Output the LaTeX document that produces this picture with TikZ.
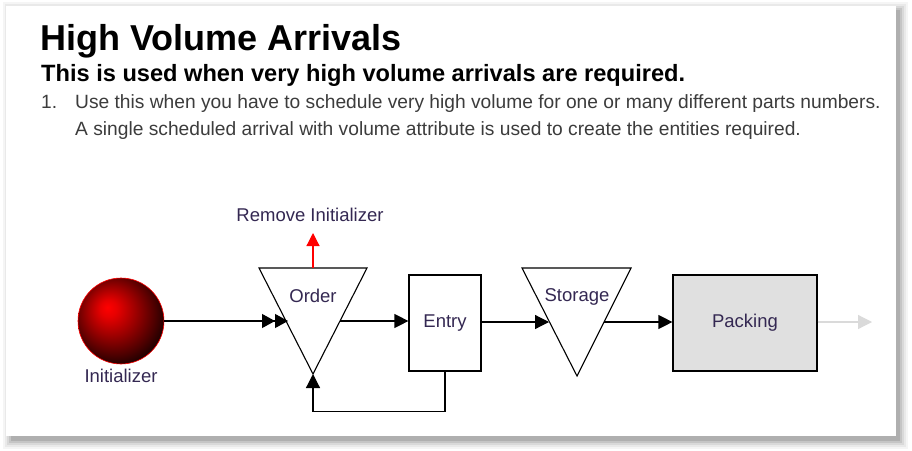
\documentclass[tikz,border=0pt]{standalone}
\usepackage{fontspec}
\setmainfont{Liberation Sans}
\usetikzlibrary{arrows.meta}
\definecolor{lbl}{RGB}{52,40,82}
\definecolor{listgray}{RGB}{60,60,60}
\definecolor{packfill}{RGB}{224,224,224}
\definecolor{outgray}{RGB}{218,218,218}
\pgfdeclareradialshading{redball}{\pgfpoint{-8bp}{8bp}}{%
  color(0bp)=(red);
  color(5bp)=(red!90!black);
  color(14bp)=(red!62!black);
  color(24bp)=(red!30!black);
  color(33bp)=(black);
  color(50bp)=(black)}
\tikzset{
  line/.style={line width=1.2pt, black},
  tip/.style={-{Triangle[length=14pt,width=14pt]}},
  dtip/.style={-{Triangle[length=13pt,width=14pt]Triangle[length=13pt,width=14pt,sep=-2pt]}},
  boxnode/.style={draw, line width=1.2pt, font=\fontsize{18.5pt}{22pt}\selectfont, text=lbl},
  lbltext/.style={font=\fontsize{18.5pt}{22pt}\selectfont, text=lbl, inner sep=0pt},
  listtext/.style={font=\fontsize{19.2pt}{22pt}\selectfont, text=listgray, inner sep=0pt, anchor=base west},
}
\begin{document}
\begin{tikzpicture}[x=1pt,y=-1pt]
\useasboundingbox (0,0) rectangle (912,450);
% card with soft shadow
\fill[black,opacity=0.04] (3,2) rectangle (908,449);
\fill[black,opacity=0.05] (5,4) rectangle (906,447);
\fill[black,opacity=0.07] (7,6) rectangle (904,445);
\fill[black,opacity=0.09] (9,8) rectangle (902,443);
\fill[black,opacity=0.11] (11,10) rectangle (900,441);
\fill[white] (6,6) rectangle (896,436);
% texts
\node[inner sep=0pt, anchor=base west, font=\fontsize{36pt}{40pt}\selectfont\bfseries] (title) at (40,50) {High Volume Arrivals};
\node[inner sep=0pt, anchor=base west, font=\fontsize{23.6pt}{28pt}\selectfont\bfseries] (sub) at (41,81) {This is used when very high volume arrivals are required.};
\node[listtext] (num) at (41,108) {1.};
\node[listtext] (l1) at (75,108) {Use this when you have to schedule very high volume for one or many different parts numbers.};
\node[listtext] (l2) at (75,135) {A single scheduled arrival with volume attribute is used to create the entities required.};
% initializer
\node[circle, minimum size=86pt, inner sep=0pt, draw=red, line width=0.6pt, shading=redball] (init) at (121,321) {};
\node[lbltext] (initlbl) at (121,376) {Initializer};
% order triangle
\coordinate (orderTL) at (259,268);
\coordinate (orderTR) at (367,268);
\coordinate (orderB) at (313,374);
\coordinate (orderT) at (313,268);
\coordinate (orderL) at (286,321);
\coordinate (orderR) at (340,321);
\draw[line width=1.1pt] (orderTL) -- (orderTR) -- (orderB) -- cycle;
\node[lbltext] (order) at (313,296) {Order};
% remove initializer
\node[lbltext] (remove) at (310,215) {Remove Initializer};
\coordinate (removeTip) at (313,233);
\draw[line width=1.2pt, red, -{Triangle[length=13pt,width=13pt]}] (orderT) -- (removeTip);
% entry
\node[boxnode, minimum width=72pt, minimum height=96pt] (entry) at (445,323) {Entry};
% storage triangle
\coordinate (storTL) at (522,268);
\coordinate (storTR) at (631,268);
\coordinate (storB) at (577,376);
\coordinate (storL) at (549,322);
\coordinate (storR) at (604,322);
\draw[line width=1.1pt] (storTL) -- (storTR) -- (storB) -- cycle;
\node[lbltext] (storage) at (577,297) {Storage};
% packing
\node[boxnode, fill=packfill, minimum width=144pt, minimum height=96pt] (packing) at (745,323) {Packing};
\coordinate (outTip) at (872,322);
% connectors
\draw[line, dtip] (init.east) -- (orderL);
\draw[line, tip] (orderR) -- (orderR -| entry.west);
\draw[line, tip] (entry.south) -- ++(0,40) -| (orderB);
\draw[line, tip] (entry.east |- storL) -- (storL);
\draw[line, tip] (storR) -- (storR -| packing.west);
\draw[line width=1.2pt, outgray, -{Triangle[length=14pt,width=14pt]}] (packing.east |- outTip) -- (outTip);
\end{tikzpicture}
\end{document}
